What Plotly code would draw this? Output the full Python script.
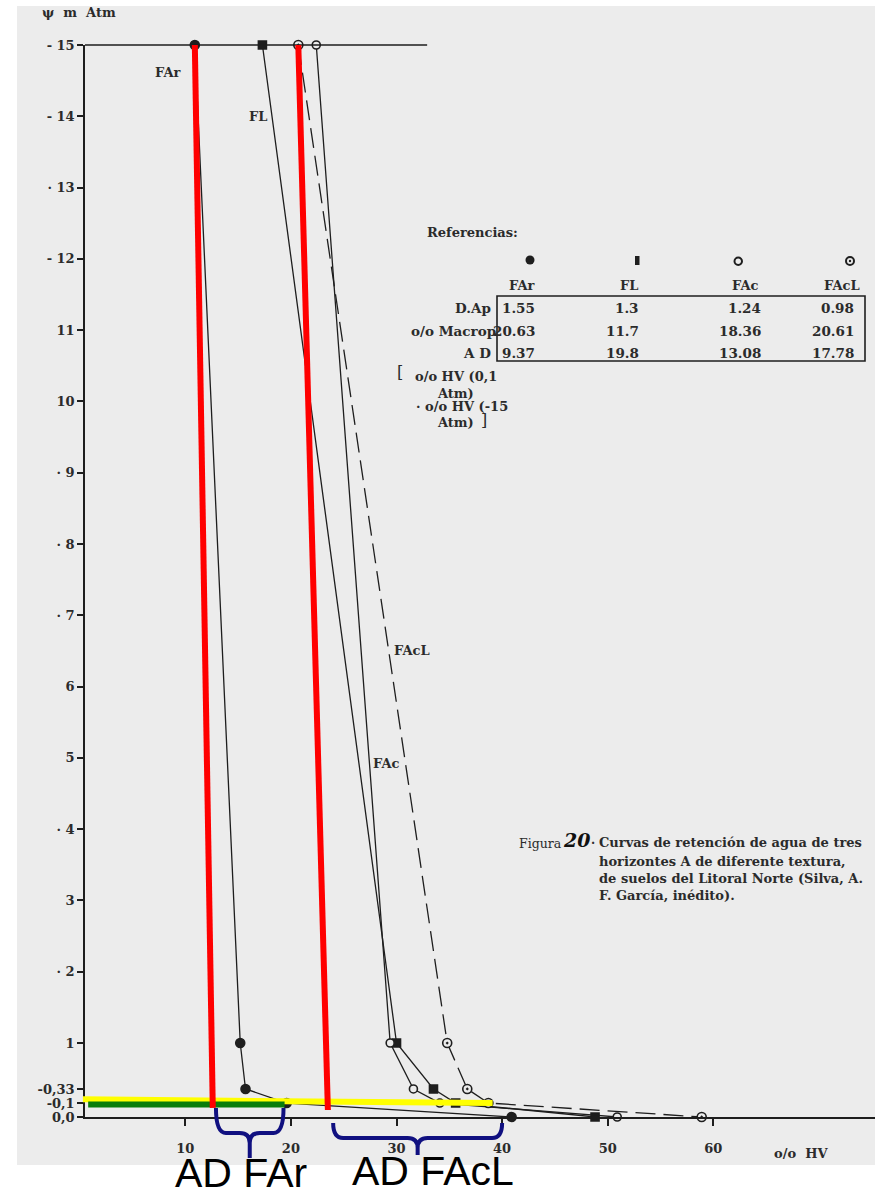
import numpy as np
import plotly.graph_objects as go

# ---------------------------------------------------------------- data
# suction steps (atm) at which water content was measured
PSI = [15, 1, 0.33, 0.1, 0]

# volumetric water content (% HV) of each horizon at those suctions
HV_FAR = [10.9, 15.2, 15.7, 19.6, 40.9]
HV_FL = [17.3, 30.0, 33.5, 35.6, 48.8]
HV_FAC = [22.4, 29.4, 31.6, 34.1, 50.9]
HV_FACL = [20.7, 34.8, 36.7, 38.7, 58.9]

HORIZONS = ["FAr", "FL", "FAc", "FAcL"]
ROW_NAMES = ["D.Ap", "o/o Macrop", "A D"]
D_AP = [1.55, 1.3, 1.24, 0.98]
MACROP = [20.63, 11.7, 18.36, 20.61]
AD = [9.37, 19.8, 13.08, 17.78]

PSI_TICKS = [15, 14, 13, 12, 11, 10, 9, 8, 7, 6, 5, 4, 3, 2, 1, 0.33, 0.1, 0]
PSI_TICK_TEXT = ["- 15", "- 14", "· 13", "- 12", "11", "10", "· 9", "· 8", "· 7",
                 "6", "5", "· 4", "3", "· 2", "1", "-0,33", "-0,1", "0,0"]
HV_TICKS = [10, 20, 30, 40, 50, 60]

# ---------------------------------------------------------------- scales
# suction axis: linear from 1 to 15 atm, stretched below 1 atm
PSI_KNOTS = [0, 0.1, 0.33, 1, 15]
POS_KNOTS = [-0.038, 0.158, 0.355, 1, 15]


def psi_pos(psi):
    return np.interp(psi, PSI_KNOTS, POS_KNOTS)


W, H = 875, 1193
ML, MT, MB = 85, 45, 76
PW, PH = W - ML, H - MT - MB
X_LO, PX_PER_HV = 0.5, 10.56
X_HI = X_LO + PW / PX_PER_HV
Y_LO, Y_HI = POS_KNOTS[0], 15.0


def xpx(hv):
    return ML + (hv - X_LO) * PX_PER_HV


def ypx(psi):
    return MT + (Y_HI - psi_pos(psi)) * PH / (Y_HI - Y_LO)


def xp(px):
    return (px - ML) / PW


def yp(py):
    return (H - MB - py) / PH


BG = "#ececec"
INK = "#1e1e1e"
TXT = "#2b2b2b"
SERIF = "DejaVu Serif"
SANS = "Liberation Sans"

fig = go.Figure()

# ---------------------------------------------------------------- curves
curve_styles = [
    (HV_FAR, "circle", 9, INK, "solid"),
    (HV_FL, "square", 8, INK, "solid"),
    (HV_FAC, "circle", 8, BG, "solid"),
    (HV_FACL, "circle-dot", 9, BG, "20px,8px"),
]
for name, (hv, sym, size, fill, dash) in zip(HORIZONS, curve_styles):
    fig.add_trace(go.Scatter(
        x=hv, y=psi_pos(PSI), name=name, mode="lines+markers",
        line=dict(color=INK, width=1.3, dash=dash),
        marker=dict(symbol=sym, size=size, color=fill, line=dict(color=INK, width=1.6)),
        cliponaxis=False, hoverinfo="skip",
    ))

# ---------------------------------------------------------------- text
def note(text, px, py, size=13.5, anchor="center", color=TXT, family=SERIF,
         weight="bold", **kw):
    return dict(text=text, x=xp(px), y=yp(py), xref="paper", yref="paper",
                xanchor=anchor, yanchor="middle", showarrow=False,
                font=dict(family=family, size=size, color=color, weight=weight), **kw)


ann = [
    note("ψ  m  Atm", 79, 13, size=13),
    note("o/o  HV", 801, 1153, size=13),
    note("FAr", 168, 72, size=13),
    note("FL", 258, 117, size=13),
    note("FAcL", 412, 650, size=13),
    note("FAc", 386, 763, size=13),
    note("Referencias:", 425, 232, size=13, anchor="left"),
]

# table of horizon properties
col_hdr_x = [522, 629, 745, 842]
col_val_right = [537, 641, 763, 856]
row_y = [308, 331, 353]
for name, cx in zip(HORIZONS, col_hdr_x):
    ann.append(note(name, cx, 285, size=13))
row_label_right = [493, 498, 493]
for label, rx, ry in zip(ROW_NAMES, row_label_right, row_y):
    ann.append(note(label, rx, ry, size=13.5, anchor="right"))
for row, ry in zip([D_AP, MACROP, AD], row_y):
    for v, rx in zip(row, col_val_right):
        ann.append(note(str(v), rx, ry, size=13.5, anchor="right"))

ann += [
    note("[", 400, 372, size=16, weight="normal"),
    note("o/o HV (0,1", 456, 377, size=13),
    note("Atm)", 455, 393, size=13),
    note("· o/o HV (-15", 462, 406, size=13),
    note("Atm)", 455, 422, size=13),
    note("]", 484, 420, size=16, weight="normal"),
]

# caption
ann += [
    note("Figura", 517, 843, size=12.5, anchor="left", weight="normal"),
    note("<i>20</i>", 561, 840, size=19, anchor="left", color="#111"),
    note("·", 589, 843, size=12, anchor="left"),
]
caption = ["Curvas de retención de agua de tres",
           "horizontes A de diferente textura,",
           "de suelos del Litoral Norte (Silva, A.",
           "F. García, inédito)."]
for line, ly in zip(caption, [842, 861, 878, 895]):
    ann.append(note(line, 597, ly, size=13, anchor="left"))

# large labels under the brackets
ann += [
    note("AD FAr", 241, 1173, size=41, color="#000", family=SANS, weight="normal",
         borderpad=0),
    note("AD FAcL", 433, 1171, size=41, color="#000", family=SANS, weight="normal",
         borderpad=0),
]

# ---------------------------------------------------------------- shapes
shapes = [
    # scanned sheet
    dict(type="rect", xref="paper", yref="paper", x0=xp(17), x1=1.0,
         y0=yp(1165), y1=yp(6), fillcolor=BG, line=dict(width=0), layer="below"),
    # top border of the diagram at -15 atm
    dict(type="line", xref="paper", yref="paper", x0=0, x1=xp(xpx(32.9)),
         y0=1, y1=1, line=dict(color=INK, width=1.5)),
    # table frame
    dict(type="rect", xref="paper", yref="paper", x0=xp(497), x1=xp(865),
         y0=yp(361), y1=yp(296), line=dict(color=INK, width=1.6)),
    # table symbols
    dict(type="circle", xref="paper", yref="paper", x0=xp(525.5), x1=xp(534.5),
         y0=yp(264.5), y1=yp(255.5), fillcolor=INK, line=dict(width=0)),
    dict(type="rect", xref="paper", yref="paper", x0=xp(635), x1=xp(639.5),
         y0=yp(265), y1=yp(256), fillcolor=INK, line=dict(width=0)),
    dict(type="circle", xref="paper", yref="paper", x0=xp(734.5), x1=xp(742),
         y0=yp(265), y1=yp(257.5), line=dict(color=INK, width=2)),
    dict(type="circle", xref="paper", yref="paper", x0=xp(846), x1=xp(854),
         y0=yp(265), y1=yp(257), line=dict(color=INK, width=2)),
    dict(type="circle", xref="paper", yref="paper", x0=xp(848.8), x1=xp(851.2),
         y0=yp(262.2), y1=yp(259.8), fillcolor=INK, line=dict(width=0)),
    # field-capacity marks
    dict(type="line", xref="paper", yref="paper", x0=xp(xpx(0.3)), x1=xp(xpx(39.1)),
         y0=yp(ypx(0.16)), y1=yp(ypx(0.1)), line=dict(color="#ffff00", width=6)),
    dict(type="line", xref="paper", yref="paper", x0=xp(xpx(0.8)), x1=xp(xpx(19.4)),
         y0=yp(ypx(0.09)), y1=yp(ypx(0.09)), line=dict(color="#0a7d0a", width=6)),
    # wilting-point verticals
    dict(type="line", xref="x", yref="y", x0=HV_FAR[0], x1=12.6,
         y0=psi_pos(15), y1=psi_pos(0.065), line=dict(color="#ff0000", width=6)),
    dict(type="line", xref="x", yref="y", x0=HV_FACL[0], x1=23.5,
         y0=psi_pos(15), y1=psi_pos(0.05), line=dict(color="#ff0000", width=6)),
]


def brace_path(xa, xb, ya, yb, yt, r=10):
    xm = (xa + xb) / 2

    def pt(px, py):
        return f"{xp(px):.5f},{yp(py):.5f}"

    left = (f"M{pt(xa, ya)} Q{pt(xa, yb)} {pt(xa + r, yb)} L{pt(xm - r, yb)} "
            f"Q{pt(xm, yb)} {pt(xm, yb + r)} L{pt(xm, yt)}")
    right = (f"M{pt(xb, ya)} Q{pt(xb, yb)} {pt(xb - r, yb)} L{pt(xm + r, yb)} "
             f"Q{pt(xm, yb)} {pt(xm, yb + r)} L{pt(xm, yt)}")
    return left + " " + right


axis_py = H - MB
for (ha, hb), (da, db, dt) in [((12.9, 19.3), (-9, 16, 41)),
                                ((24.0, 40.0), (6, 21, 38))]:
    shapes.append(dict(type="path", xref="paper", yref="paper",
                       path=brace_path(xpx(ha), xpx(hb), axis_py + da, axis_py + db, axis_py + dt),
                       line=dict(color="#101080", width=4)))

# ---------------------------------------------------------------- layout
tickfont = dict(family=SERIF, size=13, color=TXT, weight="bold")
fig.update_layout(
    width=W, height=H,
    margin=dict(l=ML, r=0, t=MT, b=MB, pad=0),
    paper_bgcolor="white", plot_bgcolor="rgba(0,0,0,0)",
    showlegend=False,
    xaxis=dict(range=[X_LO, X_HI], showgrid=False, zeroline=False,
               showline=True, linecolor=INK, linewidth=1.5,
               ticks="outside", ticklen=7, tickwidth=1.5, tickcolor=INK,
               tickvals=HV_TICKS, ticktext=[str(t) for t in HV_TICKS],
               tickfont=tickfont, ticklabelstandoff=12),
    yaxis=dict(range=[Y_LO, Y_HI], showgrid=False, zeroline=False,
               showline=True, linecolor=INK, linewidth=1.5,
               ticks="outside", ticklen=6, tickwidth=1.5, tickcolor=INK,
               tickvals=list(psi_pos(PSI_TICKS)), ticktext=PSI_TICK_TEXT,
               tickfont=tickfont),
    annotations=ann,
    shapes=shapes,
)

fig.write_html("out.html")
